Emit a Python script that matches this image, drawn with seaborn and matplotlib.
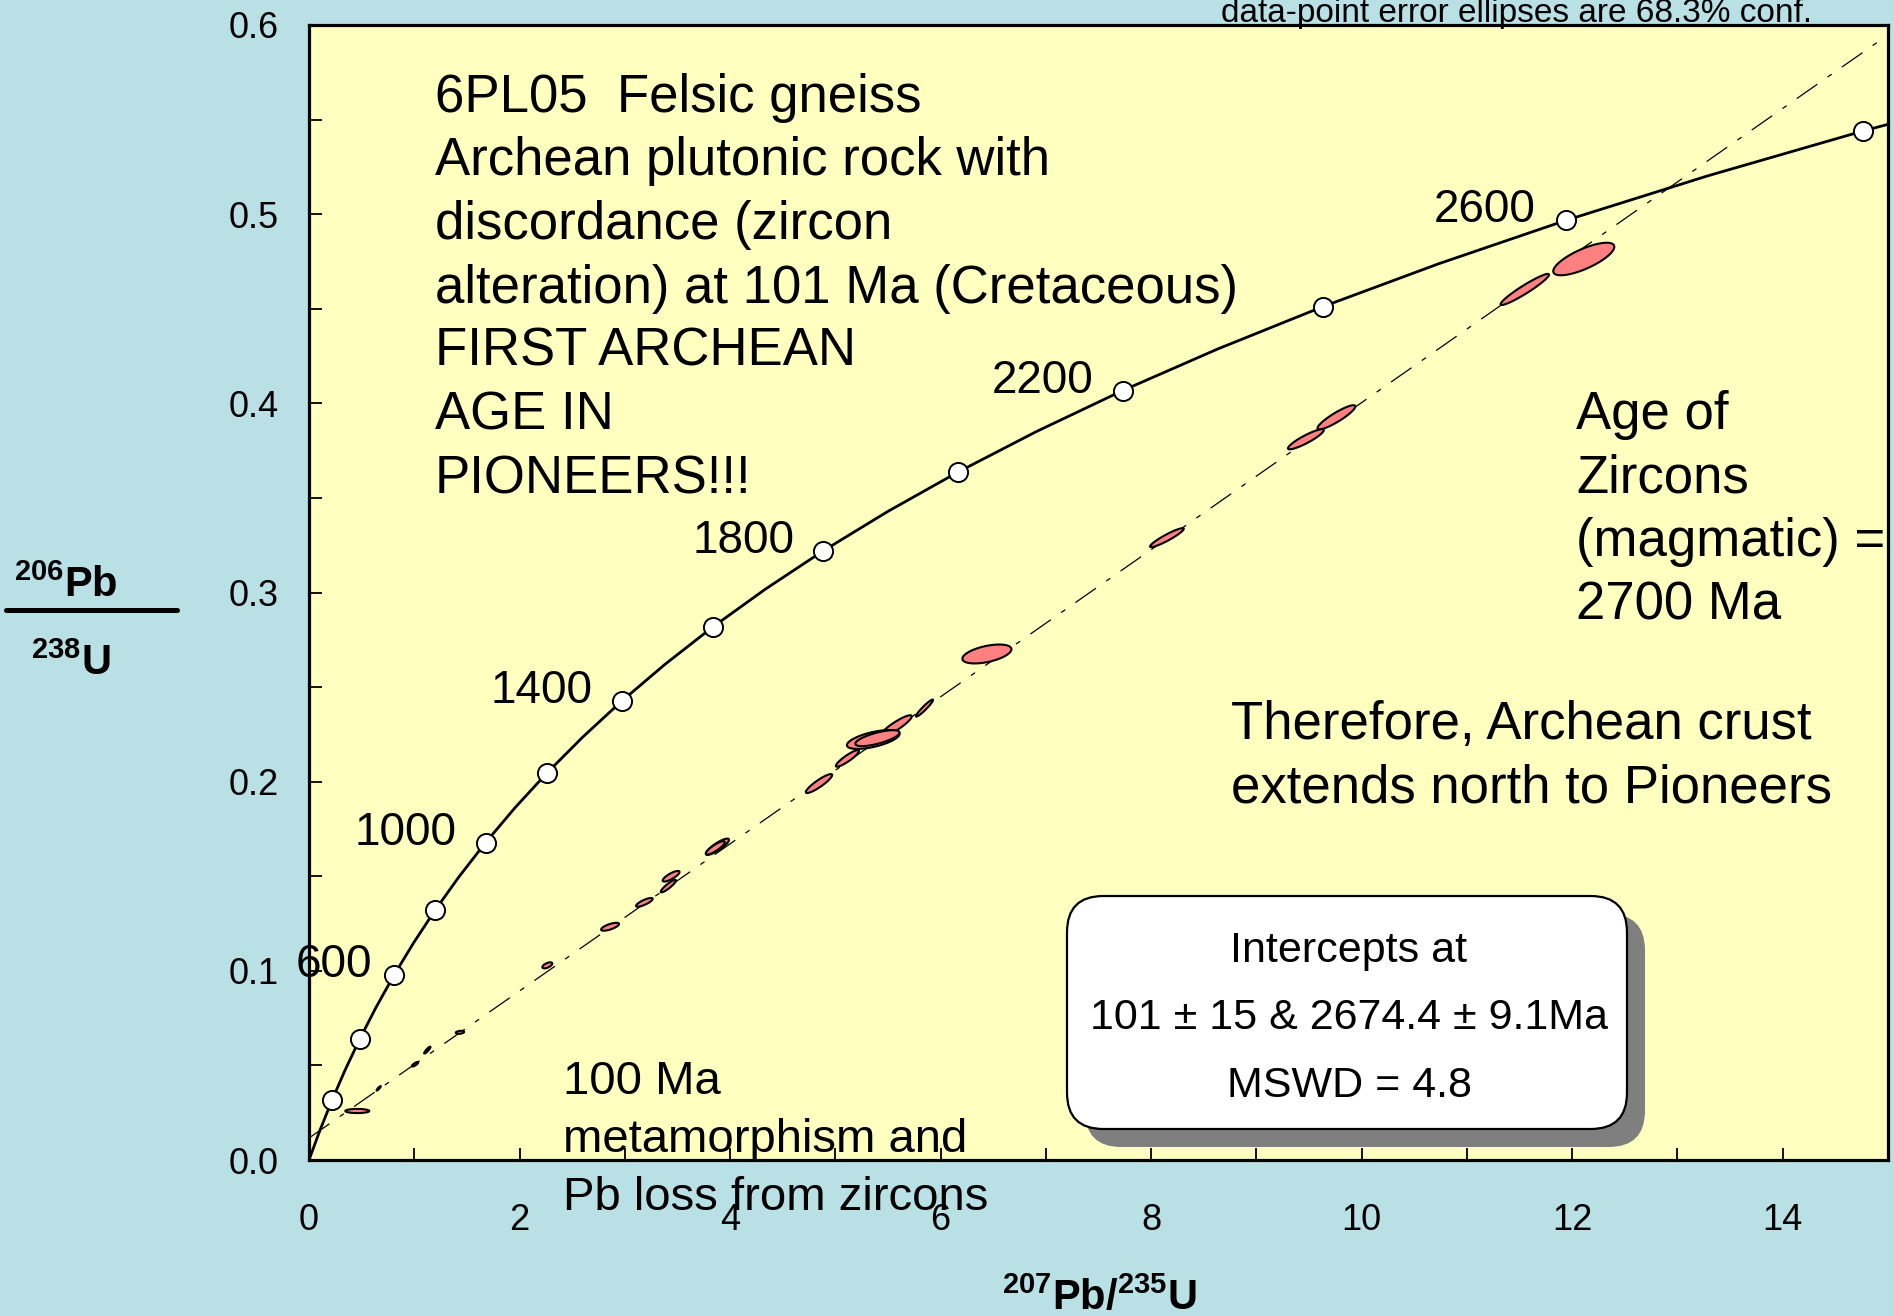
import numpy as np
import pandas as pd
import matplotlib
matplotlib.use("Agg")
import matplotlib.pyplot as plt
import seaborn as sns
from matplotlib.patches import FancyBboxPatch, Polygon
from matplotlib.lines import Line2D
from matplotlib.ticker import FixedLocator

# ---------------- data ----------------
conc_age = [0, 100, 200, 300, 400, 500, 600, 700, 800, 900, 1000, 1100, 1200, 1300,
            1400, 1500, 1600, 1700, 1800, 1900, 2000, 2100, 2200, 2300, 2400, 2500,
            2600, 2700, 2800, 2900]
conc_x = [0.0, 0.1035, 0.2177, 0.3437, 0.4828, 0.6363, 0.8056, 0.9925, 1.1987, 1.4263,
          1.6774, 1.9545, 2.2603, 2.5977, 2.9701, 3.3810, 3.8344, 4.3348, 4.8869, 5.4962,
          6.1685, 6.9105, 7.7292, 8.6326, 9.6296, 10.7297, 11.9437, 13.2834, 14.7616, 16.393]
conc_y = [0.0, 0.01563, 0.03151, 0.04764, 0.06402, 0.08065, 0.09754, 0.11470, 0.13213,
          0.14983, 0.16780, 0.18606, 0.20460, 0.22343, 0.24256, 0.26199, 0.28172, 0.30175,
          0.32210, 0.34277, 0.36377, 0.38509, 0.40674, 0.42873, 0.45107, 0.47375, 0.49679,
          0.52019, 0.54396, 0.56810]
marker_ages = [200, 400, 600, 800, 1000, 1200, 1400, 1600, 1800, 2000, 2200, 2400, 2600, 2800]
label_ages = [600, 1000, 1400, 1800, 2200, 2600]

# discordia: lower & upper intercepts (101 Ma, 2674.4 Ma)
disc_x = [0.1046, 12.927]
disc_y = [0.01567, 0.5142]

# error ellipses: centre, half-extent (x, y), correlation
ell_x = [12.11, 11.55, 9.76, 9.47, 8.15, 6.44, 5.847, 5.576, 5.36, 5.40, 5.115, 4.845,
         3.88, 3.86, 3.44, 3.414, 3.186, 2.86, 2.264, 1.434, 1.124, 1.007, 0.662, 0.459]
ell_sx = [0.29, 0.23, 0.18, 0.17, 0.16, 0.233, 0.081, 0.15, 0.25, 0.21, 0.11, 0.125,
          0.11, 0.09, 0.08, 0.072, 0.079, 0.085, 0.047, 0.04, 0.03, 0.03, 0.02, 0.114]
ell_y = [0.4763, 0.4602, 0.3926, 0.381, 0.329, 0.2675, 0.2389, 0.2294, 0.2223, 0.2230,
         0.2123, 0.199, 0.1656, 0.1650, 0.150, 0.1448, 0.1362, 0.1233, 0.1029, 0.0675,
         0.0581, 0.0506, 0.0379, 0.0259]
ell_sy = [0.0086, 0.0082, 0.0064, 0.0053, 0.005, 0.005, 0.0045, 0.0057, 0.005, 0.0042,
          0.0044, 0.005, 0.0043, 0.0035, 0.0028, 0.0033, 0.0023, 0.0021, 0.0016, 0.0008,
          0.0018, 0.0012, 0.0012, 0.0011]
ell_rho = [0.75, 0.95, 0.9, 0.9, 0.93, 0.5, 0.95, 0.9, 0.6, 0.7, 0.9, 0.9,
           0.85, 0.85, 0.8, 0.9, 0.8, 0.7, 0.6, 0.3, 0.9, 0.8, 0.9, 0.0]

x_ticks = [0, 2, 4, 6, 8, 10, 12, 14]
x_minor = [1, 3, 5, 7, 9, 11, 13, 15]
y_ticks = [0.0, 0.1, 0.2, 0.3, 0.4, 0.5, 0.6]
y_minor = [0.05, 0.15, 0.25, 0.35, 0.45, 0.55]

title_lines = ["6PL05  Felsic gneiss", "Archean plutonic rock with", "discordance (zircon",
               "alteration) at 101 Ma (Cretaceous)", "FIRST ARCHEAN", "AGE IN", "PIONEERS!!!"]
age_lines = ["Age of", "Zircons", "(magmatic) =", "2700 Ma"]
therefore_lines = ["Therefore, Archean crust", "extends north to Pioneers"]
meta_lines = ["100 Ma", "metamorphism and", "Pb loss from zircons"]
box_lines = ["Intercepts at", "101 \u00b1 15 & 2674.4 \u00b1 9.1Ma", "MSWD = 4.8"]
caption = "data-point error ellipses are 68.3% conf."

# ---------------- style ----------------
sns.set_style("white")
plt.rcParams["font.family"] = ["Liberation Sans", "DejaVu Sans"]
plt.rcParams["text.color"] = "black"
plt.rcParams["axes.labelcolor"] = "black"
plt.rcParams["xtick.color"] = "black"
plt.rcParams["ytick.color"] = "black"
plt.rcParams["mathtext.fontset"] = "custom"
plt.rcParams["mathtext.rm"] = "Liberation Sans"
plt.rcParams["mathtext.bf"] = "Liberation Sans:bold"
plt.rcParams["mathtext.it"] = "Liberation Sans:italic"

W, H = 1894, 1316
FIG_BG = "#B9E0E4"
AX_BG = "#FFFFC0"
ELL_FC = "#FF8080"

fig = plt.figure(figsize=(W / 100, H / 100), dpi=100, facecolor=FIG_BG)
ax_l, ax_r, ax_t, ax_b = 309, 1888, 25, 1160
ax = fig.add_axes([ax_l / W, 1 - ax_b / H, (ax_r - ax_l) / W, (ax_b - ax_t) / H])
ax.set_facecolor(AX_BG)


def fx(px):
    return px / W


def fy(py):
    return 1 - py / H


df = pd.DataFrame({"age": conc_age, "x": conc_x, "y": conc_y})
sns.lineplot(data=df, x="x", y="y", sort=False, estimator=None, color="black",
             lw=2.0, ax=ax, zorder=4)
mk = df[df["age"].isin(marker_ages)]
sns.scatterplot(data=mk, x="x", y="y", s=190, color="white", edgecolor="black",
                linewidth=1.4, ax=ax, zorder=5)

# age labels
label_dx = {600: -22, 1000: -29, 1400: -29, 1800: -29, 2200: -29, 2600: -31}
for a in label_ages:
    r = df[df["age"] == a].iloc[0]
    ax.annotate(str(a), (r["x"], r["y"]), xytext=(label_dx[a], -2),
                textcoords="offset pixels", ha="right", va="baseline",
                fontsize=33, color="black", zorder=6, annotation_clip=False)

# discordia
ax.axline((disc_x[0], disc_y[0]), (disc_x[1], disc_y[1]), color="black", lw=0.9,
          linestyle=(0, (20, 10, 4, 10)), zorder=2)

# error ellipses
tt = np.linspace(0, 2 * np.pi, 120)
for x, sx, y, sy, rho in zip(ell_x, ell_sx, ell_y, ell_sy, ell_rho):
    px = x + sx * np.cos(tt)
    py = y + sy * (rho * np.cos(tt) + np.sqrt(1 - rho ** 2) * np.sin(tt))
    ax.add_patch(Polygon(np.column_stack([px, py]), closed=True, fc=ELL_FC,
                         ec="black", lw=1.5, zorder=3))

ax.set_xlim(0, 15)
ax.set_ylim(0, 0.6)
ax.xaxis.set_major_locator(FixedLocator(x_ticks))
ax.xaxis.set_minor_locator(FixedLocator(x_minor))
ax.yaxis.set_major_locator(FixedLocator(y_ticks))
ax.yaxis.set_minor_locator(FixedLocator(y_minor))
ax.set_xticklabels([str(v) for v in x_ticks])
ax.set_yticklabels([f"{v:.1f}" for v in y_ticks])
ax.tick_params(axis="both", which="both", direction="in", length=9, width=1.3,
               color="black", labelsize=26, labelcolor="black")
ax.tick_params(axis="x", which="both", pad=31, bottom=True, top=False)
ax.tick_params(axis="y", which="both", pad=22, left=True, right=False)
ax.set_xlabel("")
ax.set_ylabel("")
for s in ax.spines.values():
    s.set_color("black")
    s.set_linewidth(2.3)
ax.grid(False)


# text blocks
def put_lines(lines, x_px, y0_px, step, size):
    for i, t in enumerate(lines):
        fig.text(fx(x_px), fy(y0_px + i * step), t, fontsize=size, ha="left",
                 va="baseline", color="black", zorder=10)


put_lines(title_lines, 435, 112, 63.5, 38)
put_lines(age_lines, 1576, 429.5, 63.3, 38)
put_lines(therefore_lines, 1231, 739, 63.3, 38)
put_lines(meta_lines, 563, 1094, 58, 34)

fig.text(fx(1221), fy(22), caption, fontsize=24, ha="left", va="baseline", color="black")

# intercept box with shadow
aw, ah = ax_r - ax_l, ax_b - ax_t
bx0, bx1, by0, by1 = 1067, 1627, 896, 1129
bx = (bx0 - ax_l) / aw
by = (ax_b - by1) / ah
bw = (bx1 - bx0) / aw
bh = (by1 - by0) / ah
asp = aw / ah
shadow = FancyBboxPatch((bx + 18 / aw, by - 18 / ah), bw, bh,
                        boxstyle="round,pad=0,rounding_size=0.023",
                        mutation_aspect=asp, transform=ax.transAxes,
                        fc="#7F7F7F", ec="#7F7F7F", lw=0, zorder=7, clip_on=False)
box = FancyBboxPatch((bx, by), bw, bh, boxstyle="round,pad=0,rounding_size=0.023",
                     mutation_aspect=asp, transform=ax.transAxes, fc="white",
                     ec="black", lw=1.6, zorder=8, clip_on=False)
ax.add_patch(shadow)
ax.add_patch(box)
for t, ypx in zip(box_lines, [950.6, 1018, 1086]):
    ax.text((1349 - ax_l) / aw, (ax_b - ypx) / ah, t, transform=ax.transAxes,
            ha="center", va="center", fontsize=31, color="black", zorder=9)

# axis labels
fig.text(fx(14), fy(597), r"$^{\mathbf{206}}$Pb", fontsize=30, fontweight="bold",
         ha="left", va="baseline", color="black")
fig.text(fx(31), fy(675), r"$^{\mathbf{238}}$U", fontsize=30, fontweight="bold",
         ha="left", va="baseline", color="black")
fig.add_artist(Line2D([fx(6), fx(177)], [fy(610), fy(610)], color="black", lw=3.6))
fig.text(fx(1099), fy(1310), r"$^{\mathbf{207}}$Pb/$^{\mathbf{235}}$U", fontsize=30,
         fontweight="bold", ha="center", va="baseline", color="black")

fig.savefig("out.png", dpi=100, facecolor=FIG_BG)
